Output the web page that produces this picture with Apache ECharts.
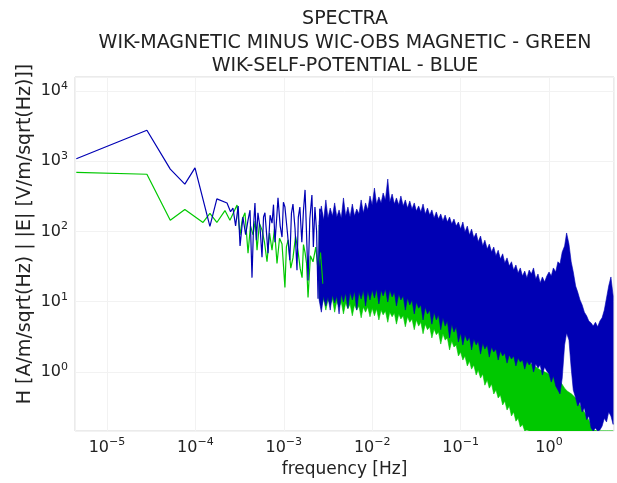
<!DOCTYPE html>
<html>
<head>
<meta charset="utf-8">
<script src="https://cdn.jsdelivr.net/npm/echarts@6/dist/echarts.min.js"></script>
<style>
html, body { margin: 0; padding: 0; background: #fff; }
#container { width: 617px; height: 483px; }
</style>
</head>
<body>
<div id="container"></div>
<script>
// low frequency end of the spectra, single lines [Hz] / amplitude
var blueLineFreq = [4.5e-6, 2.83e-5, 5.2e-5, 7.6e-5, 9.9e-5, 1.46e-4, 1.75e-4, 2.28e-4, 2.5e-4, 2.66e-4,
    2.85e-4, 3.05e-4, 3.2e-4, 3.45e-4, 3.7e-4, 3.94e-4, 4.15e-4, 4.37e-4, 4.55e-4, 4.72e-4,
    4.9e-4, 5.1e-4, 5.4e-4, 5.67e-4, 5.9e-4, 6.12e-4, 6.4e-4, 6.63e-4, 7.0e-4, 7.36e-4,
    7.65e-4, 7.95e-4, 8.3e-4, 8.6e-4, 9.1e-4, 9.55e-4, 9.9e-4, 1.03e-3, 1.1e-3, 1.17e-3,
    1.22e-3, 1.27e-3, 1.34e-3, 1.41e-3, 1.46e-3, 1.52e-3, 1.6e-3, 1.67e-3, 1.74e-3, 1.81e-3,
    1.88e-3, 1.97e-3, 2.08e-3, 2.16e-3, 2.25e-3, 2.35e-3, 2.44e-3, 2.55e-3, 2.7e-3, 2.8e-3,
    2.92e-3];
var blueLineVal = [1080, 2750, 770, 470, 800, 118, 290, 254, 190, 215,
    120, 230, 62, 160, 90, 145, 200, 22, 120, 254,
    75, 184, 110, 43, 160, 184, 90, 49, 170, 131,
    240, 70, 150, 300, 120, 83, 260, 222, 95, 39,
    180, 245, 110, 28, 160, 222, 70, 200, 389, 90,
    20, 150, 330, 60, 222, 100, 11, 210, 183, 40,
    10];
var greenLineFreq = [4.5e-6, 2.83e-5, 5.2e-5, 7.6e-5, 1.22e-4, 1.46e-4, 1.75e-4, 2.16e-4, 2.46e-4, 2.96e-4,
    3.2e-4, 3.4e-4, 3.64e-4, 3.94e-4, 4.2e-4, 4.49e-4, 4.75e-4, 4.98e-4, 5.3e-4, 5.67e-4,
    6.05e-4, 6.46e-4, 6.9e-4, 7.36e-4, 7.85e-4, 8.38e-4, 8.95e-4, 9.55e-4, 1.03e-3, 1.07e-3,
    1.12e-3, 1.2e-3, 1.27e-3, 1.36e-3, 1.45e-3, 1.53e-3, 1.61e-3, 1.67e-3, 1.74e-3, 1.81e-3,
    1.88e-3, 2.0e-3, 2.14e-3, 2.3e-3, 2.44e-3, 2.6e-3, 2.77e-3];
var greenLineVal = [690, 650, 144, 205, 134, 181, 134, 198, 144, 237,
    89, 150, 184, 49, 120, 89, 140, 54, 130, 105,
    70, 37, 95, 54, 110, 35, 80, 66, 16, 60,
    76, 30, 42, 85, 52, 30, 22, 65, 50, 35,
    11.5, 45, 37, 60, 28, 50, 18];

// dense part of the spectra: upper / lower envelope of the noise band
var bandFreq = [0.00251, 0.00266, 0.00282, 0.00299, 0.00316, 0.00335, 0.00355, 0.00376, 0.00398, 0.00422,
    0.00447, 0.00473, 0.00501, 0.00531, 0.00562, 0.00596, 0.00631, 0.00668, 0.00708, 0.0075,
    0.00794, 0.00841, 0.00891, 0.00944,
    0.01, 0.0106, 0.0112, 0.0119, 0.0126, 0.0133, 0.0141, 0.015, 0.0158, 0.0168,
    0.0178, 0.0188, 0.02, 0.0211, 0.0224, 0.0237, 0.0251, 0.0266, 0.0282, 0.0299,
    0.0316, 0.0335, 0.0355, 0.0376, 0.0398, 0.0422, 0.0447, 0.0473, 0.0501, 0.0531,
    0.0562, 0.0596, 0.0631, 0.0668, 0.0708, 0.075, 0.0794, 0.0841, 0.0891, 0.0944,
    0.1, 0.106, 0.112, 0.119, 0.126, 0.133, 0.141, 0.15, 0.158, 0.168,
    0.178, 0.188, 0.2, 0.211, 0.224, 0.237, 0.251, 0.266, 0.282, 0.299,
    0.316, 0.335, 0.355, 0.376, 0.398, 0.422, 0.447, 0.473, 0.501, 0.531,
    0.562, 0.596, 0.631, 0.668, 0.708, 0.75, 0.794, 0.841, 0.891, 0.944,
    1.0, 1.06, 1.12, 1.19, 1.26, 1.33, 1.41, 1.5, 1.58, 1.68,
    1.78, 1.88, 2.0, 2.11, 2.24, 2.37, 2.51, 2.66, 2.82, 2.99,
    3.16, 3.35, 3.55, 3.76, 3.98, 4.22, 4.47, 4.73, 5.01, 5.31];
var blueTop = [136, 230, 145, 280, 155, 215, 166, 254, 160, 202,
    155, 299, 166, 222, 160, 245, 166, 208, 177, 280,
    183, 254, 202, 319,
    238, 414, 245, 309, 254, 352, 280, 556, 262, 340,
    245, 299, 238, 319, 230, 280, 215, 271, 208, 254,
    195, 230, 189, 245, 177, 215, 171, 202, 155, 189,
    150, 177, 141, 171, 136, 160, 127, 150, 119, 136,
    108, 136, 98, 119, 89, 108, 81, 95, 71, 86,
    62, 75, 56, 66, 51, 60, 45, 54, 40.5, 48,
    35.5, 42, 32.2, 37, 28.2, 33.3, 25.6, 30.2, 23.2, 27.3,
    21.7, 28.2, 24.8, 30.2, 21.0, 24.8, 18.5, 22.5, 19.1, 23.2,
    26.5, 23.2, 30.2, 26.5, 37, 34.4, 51, 62, 95, 66,
    37, 26.5, 16.7, 13.7, 10.6, 9.0, 7.1, 6.3, 5.3, 5.0,
    4.5, 5.1, 4.4, 5.3, 5.9, 7.6, 11.3, 16.7, 22.5, 12.1];
var blueBottom = [10.6, 7.1, 12.1, 8.7, 11.7, 7.6, 12.5, 9.6, 12.1, 6.7,
    12.9, 9.9, 13.3, 8.1, 13.7, 10.6, 14.2, 7.6, 13.7, 10.9,
    14.7, 8.7, 14.2, 10.6,
    14.7, 11.3, 15.2, 9.3, 14.7, 12.1, 15.2, 9.9, 14.7, 11.7,
    13.7, 8.7, 12.9, 10.6, 12.1, 7.6, 11.3, 9.0, 10.6, 6.7,
    9.9, 8.1, 9.0, 5.5, 8.4, 6.7, 7.6, 4.8, 7.1, 5.5,
    6.5, 4.0, 5.9, 4.5, 5.3, 3.05, 4.8, 3.7, 4.4, 2.67,
    3.6, 2.42, 3.4, 2.76, 3.15, 2.06, 2.95, 2.42, 2.76, 1.80,
    2.59, 2.12, 2.42, 1.63, 2.27, 1.93, 2.12, 1.48, 1.99, 1.69,
    1.86, 1.34, 1.75, 1.53, 1.69, 1.22, 1.58, 1.39, 1.48, 1.10,
    1.43, 1.26, 1.39, 1.0, 1.30, 1.14, 1.26, 0.906, 1.18, 1.03,
    0.94, 0.72, 0.877, 0.632, 0.555, 0.487, 0.82, 2.42, 3.6, 2.85,
    1.14, 0.555, 0.427, 0.328, 0.374, 0.27, 0.31, 0.21, 0.237, 0.16,
    0.14, 0.16, 0.131, 0.15, 0.17, 0.22, 0.195, 0.27, 0.237, 0.18];
var greenBottom = [11.3, 8.7, 10.9, 7.6, 10.6, 9.3, 10.9, 7.1, 10.2, 8.4,
    9.9, 6.7, 9.6, 7.9, 9.3, 6.3, 9.0, 7.6, 8.7, 5.9,
    8.4, 7.1, 8.4, 6.1,
    8.1, 6.3, 7.9, 5.5, 7.6, 6.5, 7.4, 5.1, 7.1, 6.1,
    6.9, 4.8, 6.7, 5.7, 6.3, 4.4, 6.1, 5.1, 5.7, 4.0,
    5.5, 4.5, 5.1, 3.5, 4.8, 4.0, 4.4, 3.05, 4.1, 3.4,
    3.7, 2.5, 3.5, 2.85, 3.05, 2.06, 2.76, 2.27, 2.42, 1.69,
    1.93, 1.48, 1.69, 1.22, 1.43, 1.10, 1.26, 0.906, 1.07, 0.82,
    0.94, 0.65, 0.77, 0.59, 0.675, 0.487, 0.555, 0.427, 0.47, 0.34,
    0.387, 0.288, 0.328, 0.237, 0.27, 0.20, 0.22, 0.165, 0.18, 0.136,
    0.15, 0.108, 0.05, 0.05, 0.05, 0.05, 0.05, 0.05, 0.05, 0.05,
    0.05, 0.05, 0.05, 0.05, 0.05, 0.05, 0.05, 0.05, 0.05, 0.05,
    0.05, 0.05, 0.05, 0.05, 0.05, 0.05, 0.05, 0.05, 0.05, 0.05,
    0.05, 0.05, 0.05, 0.05, 0.05, 0.05, 0.05, 0.05, 0.05, 0.05];
// top of the green band is mostly hidden behind blue, coarser sampling
var greenTopFreq = [0.0025, 0.0028, 0.0032, 0.0035, 0.004, 0.0045, 0.005, 0.0056, 0.0063, 0.0071,
    0.008, 0.009, 0.01, 0.011, 0.012, 0.013, 0.014, 0.015, 0.016, 0.018,
    0.02, 0.022, 0.025, 0.028, 0.032, 0.035, 0.04, 0.045, 0.05, 0.056,
    0.063, 0.071, 0.08, 0.09, 0.1, 0.11, 0.12, 0.13, 0.15, 0.16,
    0.18, 0.2, 0.22, 0.25, 0.28, 0.32, 0.35, 0.4, 0.45, 0.5,
    0.56, 0.63, 0.71, 0.8, 0.9, 1.0, 1.1, 1.2, 1.3, 1.4,
    1.5, 1.6, 1.7, 1.8, 2.0, 2.2, 2.5, 2.8, 3.2, 3.5,
    4.0, 4.5, 4.7, 5.0, 5.31];
var greenTop = [123, 98, 136, 86, 112, 81, 105, 75, 98, 71,
    86, 66, 81, 62, 75, 58, 71, 54, 64, 51,
    58, 45, 51, 39, 43, 34, 37, 28, 30, 23.2,
    24, 18.5, 17.9, 13.7, 12.9, 10.6, 9.9, 8.1, 7.1, 6.3,
    5.5, 4.7, 4.3, 3.6, 3.15, 2.67, 2.42, 2.05, 1.86, 1.63,
    1.48, 1.30, 1.18, 1.07, 1.0, 0.94, 0.877, 0.82, 0.77, 0.675,
    0.59, 0.537, 0.51, 0.487, 0.427, 0.35, 0.27, 0.21, 0.15, 0.1,
    0.08, 0.07, 0.07, 0.06, 0.06];

var titleLines = ['SPECTRA', 'WIK-MAGNETIC MINUS WIC-OBS MAGNETIC - GREEN', 'WIK-SELF-POTENTIAL - BLUE'];
var yName = 'H [A/m/sqrt(Hz) | |E| [V/m/sqrt(Hz)]]';
var xName = 'frequency [Hz]';

var FONT = 'DejaVu Sans';
var TXT = '#222';
var BLUE = '#0000b4';
var GREEN = '#00c800';

function pairs(xs, ys) {
    var out = [];
    for (var i = 0; i < xs.length; i++) out.push([xs[i], ys[i]]);
    return out;
}

function powLabel(v) {
    var l = Math.log10(v);
    var e = Math.round(l);
    if (Math.abs(l - e) > 1e-6) return '';
    return '{b|10}{e|' + (e < 0 ? '\u2212' + (-e) : e) + '}';
}

var labelRich = {
    b: { fontFamily: FONT, fontSize: 16, color: TXT },
    e: { fontFamily: FONT, fontSize: 11, color: TXT, padding: [0, 0, 10, 0] }
};

// noise band: polygon from the upper envelope forward and lower envelope back
function bandSeries(name, topF, top, botF, bottom, color) {
    var upper = pairs(topF, top);
    var lower = pairs(botF, bottom);
    return {
        name: name,
        type: 'custom',
        data: upper,
        silent: true,
        clip: true,
        renderItem: function (params, api) {
            if (params.dataIndex !== 0) return null;
            var pts = [], k;
            for (k = 0; k < upper.length; k++) pts.push(api.coord(upper[k]));
            for (k = lower.length - 1; k >= 0; k--) pts.push(api.coord(lower[k]));
            var cs = params.coordSys;
            pts = echarts.graphic.clipPointsByRect(pts, { x: cs.x, y: cs.y, width: cs.width, height: cs.height });
            return {
                type: 'polygon',
                shape: { points: pts },
                style: { fill: color, stroke: color, lineWidth: 0.6 }
            };
        }
    };
}

var graphics = [];
var titleY = [19, 43, 66];
for (var t = 0; t < titleLines.length; t++) {
    graphics.push({
        type: 'text', x: 345, y: titleY[t],
        style: { text: titleLines[t], fill: TXT, font: '19px "DejaVu Sans"',
            align: 'center', verticalAlign: 'middle', textAlign: 'center', textVerticalAlign: 'middle' }
    });
}
graphics.push({
    type: 'text', x: 25, y: 234, rotation: Math.PI / 2,
    style: { text: yName, fill: TXT, font: '19px "DejaVu Sans"',
        align: 'center', verticalAlign: 'middle', textAlign: 'center', textVerticalAlign: 'middle' }
});

var dom = document.getElementById('container');
var myChart = echarts.init(dom, null, { renderer: 'canvas' });
var option = {
    animation: false,
    backgroundColor: '#fff',
    grid: {
        left: 75, right: 3, top: 77, bottom: 52,
        show: true, borderColor: '#d6d6d6', borderWidth: 1,
        outerBoundsMode: 'none'
    },
    graphic: graphics,
    xAxis: {
        type: 'log', logBase: 10,
        min: 4.35e-6, max: 5.43,
        name: xName, nameLocation: 'middle', nameGap: 30,
        nameTextStyle: { fontFamily: FONT, fontSize: 17, color: TXT },
        axisLine: { show: false }, axisTick: { show: false },
        splitLine: { show: true, lineStyle: { color: '#f2f2f2', width: 1 } },
        axisLabel: { formatter: powLabel, rich: labelRich, margin: 6, showMinLabel: false, showMaxLabel: false }
    },
    yAxis: {
        type: 'log', logBase: 10,
        min: 0.145, max: 15700,
        axisLine: { show: false }, axisTick: { show: false },
        splitLine: { show: true, lineStyle: { color: '#f2f2f2', width: 1 } },
        axisLabel: { formatter: powLabel, rich: labelRich, margin: 7, showMinLabel: false, showMaxLabel: false }
    },
    series: [
        {
            name: 'green', type: 'line', data: pairs(greenLineFreq, greenLineVal),
            showSymbol: false, clip: true, silent: true,
            lineStyle: { color: GREEN, width: 1.2 }
        },
        bandSeries('greenBand', greenTopFreq, greenTop, bandFreq, greenBottom, GREEN),
        {
            name: 'blue', type: 'line', data: pairs(blueLineFreq, blueLineVal),
            showSymbol: false, clip: true, silent: true,
            lineStyle: { color: BLUE, width: 1.2 }
        },
        bandSeries('blueBand', bandFreq, blueTop, bandFreq, blueBottom, BLUE)
    ]
};
if (option && typeof option === "object") {
    myChart.setOption(option, true);
}
</script>
</body>
</html>
